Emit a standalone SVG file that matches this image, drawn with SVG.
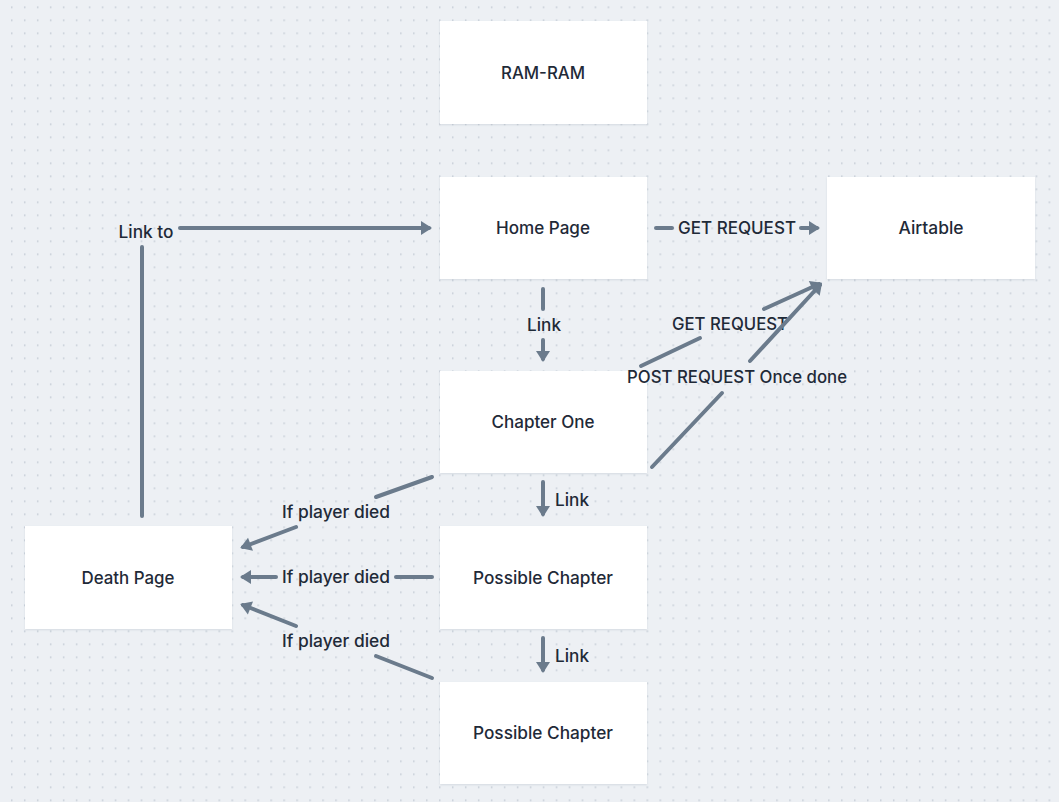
<svg xmlns="http://www.w3.org/2000/svg" width="1059" height="802" viewBox="0 0 1059 802">
<style>
.node rect{fill:#ffffff;filter:url(#sh)}
.nt{font-family:Inter,"Liberation Sans",Arial,sans-serif;font-size:17px;font-weight:500;fill:#1f2a38;text-anchor:middle}
.lbl{font-family:Inter,"Liberation Sans",Arial,sans-serif;font-size:17px;font-weight:500;fill:#1f2a38;text-anchor:middle}
.e{stroke:#6b7b8c;stroke-width:4;stroke-linecap:round;fill:none}
</style>
<defs>
<pattern id="dots" x="11" y="6.5" width="12.97" height="13" patternUnits="userSpaceOnUse">
<rect x="0" y="0" width="1.5" height="1.5" fill="#c2c9d3"/>
</pattern>
<filter id="sh" x="-5%" y="-5%" width="110%" height="115%">
<feDropShadow dx="0" dy="1" stdDeviation="1" flood-color="#8a96a6" flood-opacity="0.25"/>
</filter>
<marker id="ah" markerUnits="userSpaceOnUse" markerWidth="30" markerHeight="30" viewBox="-15 -15 30 30" refX="0" refY="0" orient="auto" overflow="visible">
<path d="M-8,-7 L3,0 L-8,7 Z" fill="#6b7b8c"/>
</marker>
</defs>
<rect width="1059" height="802" fill="#edf0f4"/>
<rect width="1059" height="802" fill="url(#dots)"/>

<g id="ram-ram" class="node"><rect x="440" y="21" width="207" height="103"/><text class="nt" x="543" y="79" textLength="84" lengthAdjust="spacingAndGlyphs">RAM-RAM</text></g>
<g id="home-page" class="node"><rect x="440" y="177" width="207" height="102"/><text class="nt" x="543" y="234" textLength="94" lengthAdjust="spacingAndGlyphs">Home Page</text></g>
<g id="airtable" class="node"><rect x="827" y="177" width="208" height="102"/><text class="nt" x="931" y="234" textLength="65" lengthAdjust="spacingAndGlyphs">Airtable</text></g>
<g id="chapter-one" class="node"><rect x="440" y="371" width="207" height="102"/><text class="nt" x="543" y="428" textLength="103" lengthAdjust="spacingAndGlyphs">Chapter One</text></g>
<g id="possible-chapter-1" class="node"><rect x="440" y="526" width="207" height="103"/><text class="nt" x="543" y="584" textLength="140" lengthAdjust="spacingAndGlyphs">Possible Chapter</text></g>
<g id="possible-chapter-2" class="node"><rect x="440" y="682" width="207" height="102"/><text class="nt" x="543" y="739" textLength="140" lengthAdjust="spacingAndGlyphs">Possible Chapter</text></g>
<g id="death-page" class="node"><rect x="25" y="526" width="207" height="103"/><text class="nt" x="128" y="584" textLength="93" lengthAdjust="spacingAndGlyphs">Death Page</text></g>

<g id="connectors">
<!-- Home -> Airtable -->
<line class="e" x1="656" y1="228" x2="672" y2="228"/>
<line class="e" x1="801" y1="228" x2="817" y2="228" marker-end="url(#ah)"/>
<text class="lbl" x="737" y="234" textLength="118" lengthAdjust="spacingAndGlyphs">GET REQUEST</text>
<!-- Home -> Chapter One -->
<line class="e" x1="543" y1="289" x2="543" y2="309"/>
<line class="e" x1="543" y1="340" x2="543" y2="359" marker-end="url(#ah)"/>
<text class="lbl" x="544" y="331" textLength="34" lengthAdjust="spacingAndGlyphs">Link</text>
<!-- Chapter One -> Possible 1 -->
<line class="e" x1="543" y1="482" x2="543" y2="514" marker-end="url(#ah)"/>
<text class="lbl" x="572" y="506" textLength="34" lengthAdjust="spacingAndGlyphs">Link</text>
<!-- Possible 1 -> Possible 2 -->
<line class="e" x1="543" y1="638" x2="543" y2="670" marker-end="url(#ah)"/>
<text class="lbl" x="572" y="662" textLength="34" lengthAdjust="spacingAndGlyphs">Link</text>
<!-- Chapter One -> Airtable GET -->
<line class="e" x1="641" y1="366" x2="700" y2="338"/>
<line class="e" x1="764" y1="309" x2="819" y2="284" marker-end="url(#ah)"/>
<text class="lbl" x="730" y="330" textLength="116" lengthAdjust="spacingAndGlyphs">GET REQUEST</text>
<!-- Chapter One -> Airtable POST -->
<line class="e" x1="652" y1="467" x2="722" y2="393"/>
<line class="e" x1="750" y1="361" x2="820" y2="285" marker-end="url(#ah)"/>
<text class="lbl" x="737" y="383" textLength="220" lengthAdjust="spacingAndGlyphs">POST REQUEST Once done</text>
<!-- Chapter One -> Death -->
<line class="e" x1="432" y1="477" x2="376" y2="497"/>
<line class="e" x1="296" y1="527" x2="243" y2="547" marker-end="url(#ah)"/>
<text class="lbl" x="336" y="518" textLength="108" lengthAdjust="spacingAndGlyphs">If player died</text>
<!-- Possible 1 -> Death -->
<line class="e" x1="432" y1="577" x2="396" y2="577"/>
<line class="e" x1="276" y1="577" x2="243" y2="577" marker-end="url(#ah)"/>
<text class="lbl" x="336" y="583" textLength="108" lengthAdjust="spacingAndGlyphs">If player died</text>
<!-- Possible 2 -> Death -->
<line class="e" x1="432" y1="678" x2="376" y2="656"/>
<line class="e" x1="296" y1="626" x2="243" y2="605" marker-end="url(#ah)"/>
<text class="lbl" x="336" y="647" textLength="108" lengthAdjust="spacingAndGlyphs">If player died</text>
<!-- Death -> Home -->
<line class="e" x1="142" y1="516" x2="142" y2="247"/>
<line class="e" x1="180" y1="228" x2="429" y2="228" marker-end="url(#ah)"/>
<text class="lbl" x="146" y="238" textLength="55" lengthAdjust="spacingAndGlyphs">Link to</text>
</g>
</svg>
